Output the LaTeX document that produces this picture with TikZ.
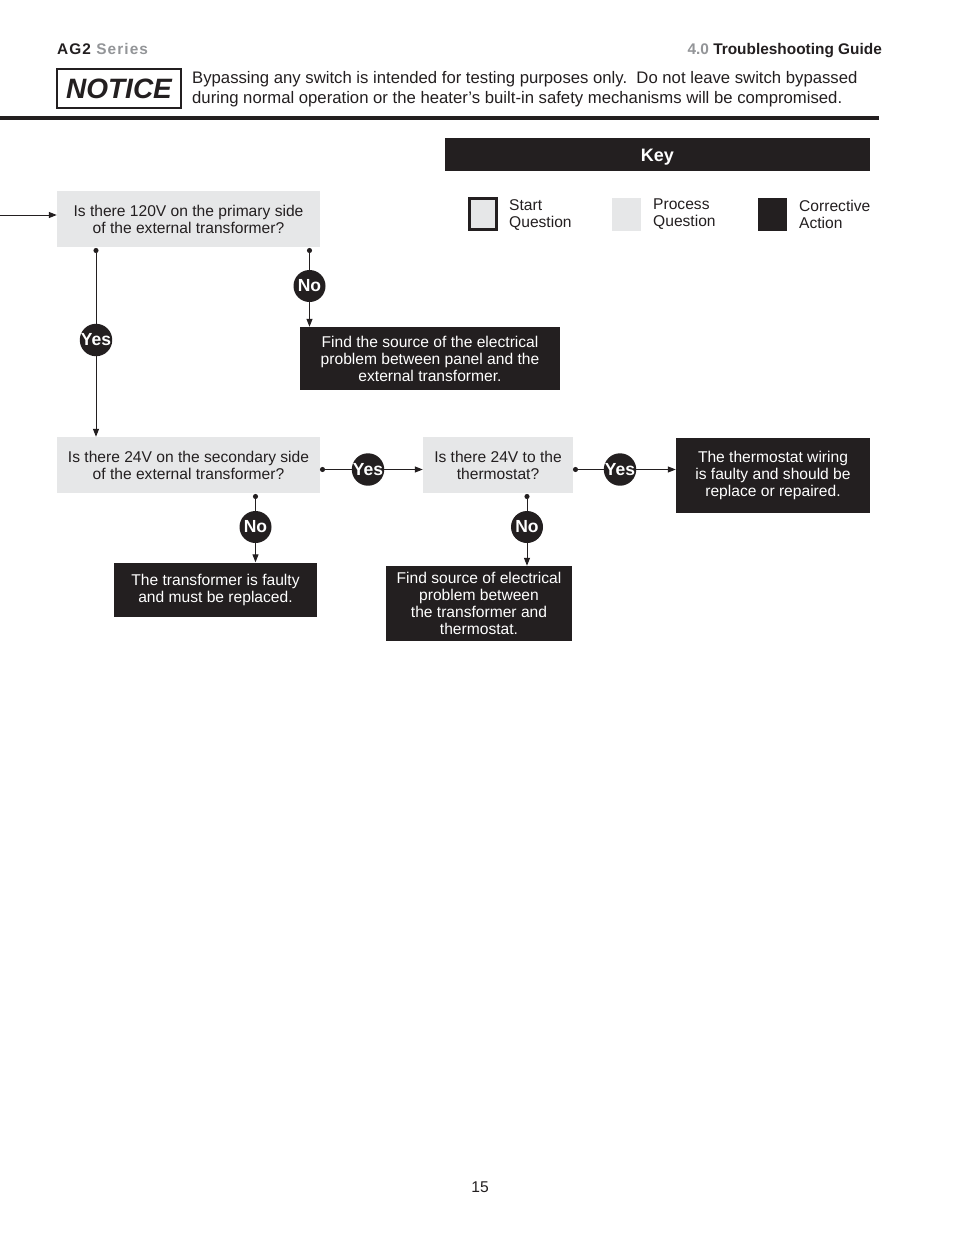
\documentclass[tikz,border=0pt]{standalone}
\usepackage{fontspec}
\setmainfont{Liberation Sans}
\usetikzlibrary{arrows.meta}
\definecolor{ink}{HTML}{231F20}
\definecolor{pale}{HTML}{E6E7E8}
\definecolor{greytxt}{HTML}{939598}
\begin{document}
\begin{tikzpicture}[x=1pt,y=-1pt,
  txt/.style={inner sep=0, text=ink, font=\fontsize{15.6}{17}\selectfont},
  qbox/.style={fill=pale, inner sep=0, align=center, text=ink, font=\fontsize{15.6}{17}\selectfont},
  abox/.style={fill=ink, inner sep=0, align=center, text=white, font=\fontsize{15.6}{17}\selectfont},
  ans/.style={circle, fill=ink, text=white, inner sep=0, minimum size=32pt, font=\bfseries\fontsize{17.5}{17}\selectfont},
  conn/.style={draw=ink, line width=1pt},
  arr/.style={conn, -{Triangle[length=8pt,width=6pt]}},
  dotstart/.style={conn, {Circle[length=5pt]}-},
]
\useasboundingbox[fill=white] (0,0) rectangle (954,1235);

% header
\node[txt, anchor=base west, font=\bfseries\fontsize{15.4}{17}\selectfont\addfontfeature{LetterSpace=7}] (hl) at (57,54) {AG2 \textcolor{greytxt}{Series}};
\node[txt, anchor=base east, font=\bfseries\fontsize{15.4}{17}\selectfont] (hr) at (882,54) {\textcolor{greytxt}{4.0} Troubleshooting Guide};
\node[draw=ink, line width=1.2pt, minimum width=124pt, minimum height=39pt, inner sep=0, text=ink, font=\bfseries\itshape\fontsize{28}{28}\selectfont] (notice) at (119,88.5) {NOTICE};
\node[txt, anchor=base west, font=\fontsize{16.7}{20}\selectfont] (n1) at (192,83) {Bypassing any switch is intended for testing purposes only.\ \ Do not leave switch bypassed};
\node[txt, anchor=base west, font=\fontsize{16.7}{20}\selectfont] (n2) at (192,103) {during normal operation or the heater’s built-in safety mechanisms will be compromised.};
\fill[ink] (0,116) rectangle (879,120);

% key
\node[fill=ink, minimum width=425pt, minimum height=33pt, inner sep=0] (keybar) at (657.5,154.5) {};
\node[anchor=base, inner sep=0, text=white, font=\bfseries\fontsize{18}{18}\selectfont] (keyt) at (657.5,161.5) {Key};
\node[draw=ink, line width=3pt, fill=pale, minimum width=27pt, minimum height=31pt, inner sep=0] (kstart) at (483,214) {};
\node[txt, anchor=west, align=left] (kstartt) at (509,215.5) {Start\\Question};
\node[fill=pale, minimum width=29pt, minimum height=33pt, inner sep=0] (kproc) at (626.5,214.5) {};
\node[txt, anchor=west, align=left] (kproct) at (653,214.5) {Process\\Question};
\node[fill=ink, minimum width=29pt, minimum height=33pt, inner sep=0] (kcorr) at (772.5,214.5) {};
\node[txt, anchor=west, align=left] (kcorrt) at (799,214) {Corrective\\Action};

% flow nodes
\node[qbox, minimum width=263pt, minimum height=56pt] (q1) at (188.5,219) {Is there 120V on the primary side\\of the external transformer?};
\node[abox, minimum width=260pt, minimum height=63pt] (a1) at (430,358.5) {Find the source of the electrical\\problem between panel and the\\external transformer.};
\node[qbox, minimum width=263pt, minimum height=56pt] (q2) at (188.5,465) {Is there 24V on the secondary side\\of the external transformer?};
\node[qbox, minimum width=150pt, minimum height=56pt] (q3) at (498,465) {Is there 24V to the\\thermostat?};
\node[abox, minimum width=194pt, minimum height=75pt] (a3) at (773,475.5) {The thermostat wiring\\is faulty and should be\\replace or repaired.};
\node[abox, minimum width=203pt, minimum height=54pt] (a2) at (215.5,589.5) {The transformer is faulty\\and must be replaced.};
\node[abox, minimum width=186pt, minimum height=75pt] (a4) at (479,603.5) {Find source of electrical\\problem between\\the transformer and\\thermostat.};

% answer circles
\node[ans] (yes1) at (96,340) {Yes};
\node[ans] (no1) at (309.5,286) {No};
\node[ans] (yes2) at (368,469.5) {Yes};
\node[ans] (yes3) at (620,469.5) {Yes};
\node[ans] (no2) at (255.5,527) {No};
\node[ans] (no3) at (527,527) {No};

% connector anchors
\coordinate (in) at (0,215);
\coordinate (d1) at (96,248);
\coordinate (d2) at (309.5,248);
\coordinate (d3) at (320,469.5);
\coordinate (d4) at (573,469.5);
\coordinate (d5) at (255.5,494);
\coordinate (d6) at (527,494);

% connectors
\draw[arr] (in) -- (q1.west |- in);
\draw[dotstart] (d1) -- (yes1);
\draw[arr] (yes1) -- (q2.north -| yes1);
\draw[dotstart] (d2) -- (no1);
\draw[arr] (no1) -- (a1.north -| no1);
\draw[dotstart] (d3) -- (yes2);
\draw[arr] (yes2) -- (q3.west |- yes2);
\draw[dotstart] (d4) -- (yes3);
\draw[arr] (yes3) -- (a3.west |- yes3);
\draw[dotstart] (d5) -- (no2);
\draw[arr] (no2) -- (a2.north -| no2);
\draw[dotstart] (d6) -- (no3);
\draw[arr] (no3) -- (a4.north -| no3);

% page number
\node[txt] (pg) at (480,1187) {15};
\end{tikzpicture}
\end{document}
